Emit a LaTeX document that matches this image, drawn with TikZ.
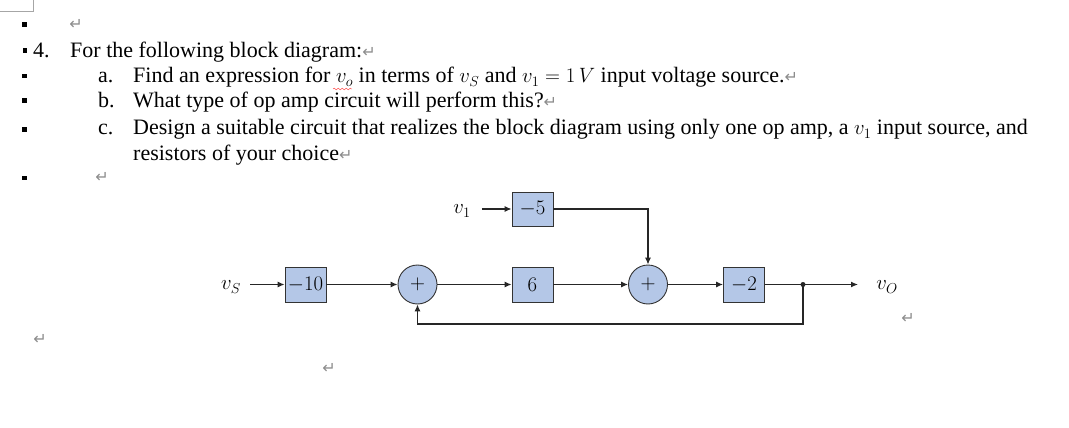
\documentclass[tikz,border=0pt]{standalone}
\usepackage{fontspec}
\setmainfont{Liberation Serif}
\newfontfamily\markfont{DejaVu Sans}
\usetikzlibrary{arrows.meta,positioning,decorations.pathmorphing}
\definecolor{boxblue}{RGB}{180,199,231}
\definecolor{markgray}{RGB}{140,140,140}
\newcommand\pmark{{\color{markgray}\markfont\fontsize{16}{16}\selectfont ↵}}
\tikzset{
  gain/.style={
    draw=black!80,
    fill=boxblue,
    line width=0.9pt,
    minimum width=41pt,
    minimum height=35pt,
    inner sep=0pt,
    font=\fontsize{21}{21}\selectfont
  },
  summer/.style={
    circle,
    draw=black!80,
    fill=boxblue,
    line width=0.9pt,
    minimum size=39pt,
    inner sep=0pt,
    font=\fontsize{21}{21}\selectfont
  },
  sigvar/.style={
    inner sep=0pt,
    font=\fontsize{21}{21}\selectfont
  },
  wire/.style={
    line width=1.1pt,
    draw=black!85
  },
  signal/.style={
    wire,
    -{Latex[length=7pt,width=6pt]}
  },
  para/.style={
    anchor=base west,
    inner sep=0pt,
    font=\fontsize{22}{26}\selectfont
  },
  retmark/.style={
    inner sep=0pt,
    text=markgray,
    font=\markfont\fontsize{16}{16}\selectfont
  },
  bullet/.style={
    fill=black,
    minimum size=4.5pt,
    inner sep=0pt
  }
}

\begin{document}
\begin{tikzpicture}[x=1pt,y=-1pt]
    \useasboundingbox (0,0) rectangle (1069,428);
    % page corner
    \draw[black!35] (0,11) -- (33,11) -- (33,0);

    % list bullets
    \node[bullet] (b0) at (24.5,24.5) {};
    \node[bullet] (b1) at (25,50.5) {};
    \node[bullet] (b2) at (24.5,76) {};
    \node[bullet] (b3) at (24.5,100.5) {};
    \node[bullet] (b4) at (24.5,129.5) {};
    \node[bullet] (b5) at (24.5,178) {};

    % question text
    \node[retmark] (m0) at (76,24) {↵};
    \node[para] (qnum) at (33,58) {4.};
    \node[para] (qtext) at (70,58) {For the following block diagram:\pmark};
    \node[para] (alab) at (98,83) {a.};
    \node[para] (atext) at (133,83) {Find an expression for $v_o$ in terms of $v_S$ and $v_1=1\,V$ input voltage source.\pmark};
    \node[para] (blab) at (98,107.5) {b.};
    \node[para] (btext) at (133,107.5) {What type of op amp circuit will perform this?\pmark};
    \node[para] (clab) at (98,135) {c.};
    \node[para] (ctext) at (133,135) {Design a suitable circuit that realizes the block diagram using only one op amp, a $v_1$ input source, and};
    \node[para] (ctext2) at (133,160.5) {resistors of your choice\pmark};
    \node[retmark] (m1) at (102,177) {↵};
    \draw[red!80, decorate, decoration={snake,amplitude=0.9pt,segment length=4pt}] (333,89) -- (352,89);

    % blocks
    \node[gain] (g10) at (305.5,284.5) {$-10$};
    \node[summer] (s1) at (417.5,284.5) {$+$};
    \node[gain] (g6) at (532.5,284.5) {$6$};
    \node[gain, minimum height=34pt] (g5) at (532.5,209) {$-5$};
    \node[summer] (s2) at (648,284.5) {$+$};
    \node[gain] (g2) at (744,284.5) {$-2$};

    \node[sigvar] (vs) at (231,287) {$v_S$};
    \node[sigvar] (v1) at (462,211) {$v_1$};
    \node[sigvar] (vo) at (887,287) {$v_O$};
    \coordinate (tap) at (803,284.5);
    \coordinate (outend) at (858,284.5);

    % signal paths
    \draw[signal] ([xshift=9pt]vs.east |- g10) -- (g10);
    \draw[signal] (g10) -- (s1);
    \draw[signal] (s1) -- (g6);
    \draw[signal] (g6) -- (s2);
    \draw[signal] ([xshift=11pt]v1.east |- g5) -- (g5);
    \draw[signal] (g5.east) -| (s2.north);
    \draw[signal] (s2) -- (g2);
    \draw[wire] (g2) -- (tap);
    \draw[signal] (tap) -- (outend);
    \draw[signal] (tap) -- ++(0,39.5) -| (s1.south);
    \fill[black!85] (tap) circle (2.5pt);

    \node[retmark] (m2) at (908,318) {↵};
    \node[retmark] (m3) at (40,339) {↵};
    \node[retmark] (m4) at (329,368) {↵};
\end{tikzpicture}
\end{document}
